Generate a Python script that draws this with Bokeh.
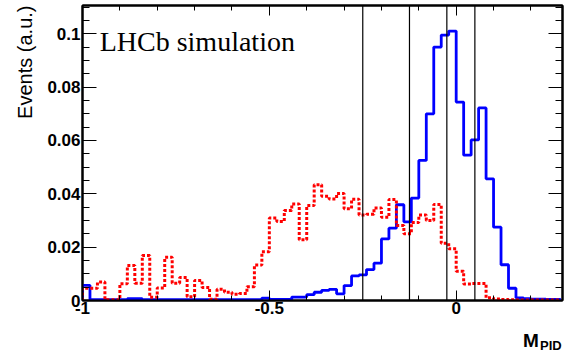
import numpy as np
from bokeh.plotting import figure
from bokeh.models import Range1d, FixedTicker, LinearAxis, Span, Label, Title
from bokeh.embed import file_html
from bokeh.resources import INLINE

# ---- data ----
bin_start = -1.0
bin_width = 0.02
n_bins = 64

signal = [0.0057, 0.0003, 0.0003, 0.0003, 0.0003, 0.0003, 0.0007, 0.0007, 0.0003, 0.0003,
          0.0003, 0.0003, 0.0003, 0.0003, 0.0003, 0.0003, 0.0003, 0.0003, 0.0003, 0.0003,
          0.0003, 0.0003, 0.0003, 0.0003, 0.0009, 0.0004, 0.0004, 0.0004, 0.0013, 0.0013,
          0.0022, 0.0031, 0.0038, 0.0042, 0.0025, 0.0056, 0.0092, 0.0096, 0.0116, 0.0140,
          0.0231, 0.0271, 0.0359, 0.0295, 0.0384, 0.0525, 0.0700, 0.0950, 0.0995, 0.1010,
          0.0744, 0.0545, 0.0602, 0.0722, 0.0456, 0.0275, 0.0134, 0.0046, 0.0010, 0.0007,
          0.0005, 0.0005, 0.0004, 0.0004]

background = [0.0046, 0.0046, 0.0069, 0.0003, 0.0003, 0.0063, 0.0131, 0.0065, 0.0169, 0.0012,
              0.0047, 0.0162, 0.0065, 0.0086, 0.0014, 0.0075, 0.0049, 0.0005, 0.0042, 0.0031,
              0.0023, 0.0026, 0.0052, 0.0133, 0.0183, 0.0309, 0.0296, 0.0337, 0.0362, 0.0228,
              0.0356, 0.0434, 0.0391, 0.0381, 0.0401, 0.0344, 0.0380, 0.0321, 0.0323, 0.0347,
              0.0312, 0.0379, 0.0281, 0.0250, 0.0292, 0.0321, 0.0300, 0.0360, 0.0215, 0.0194,
              0.0110, 0.0062, 0.0064, 0.0064, 0.0010, 0.0006, 0.0004, 0.0003, 0.0002, 0.0002,
              0.0002, 0.0002, 0.0002, 0.0002]

cut_positions = [-0.25, -0.125, -0.025, 0.05]

x_ticks = [-1, -0.5, 0]
x_tick_labels = ["-1", "-0.5", "0"]
x_minor = [round(-1 + 0.1 * i, 2) for i in range(13)]
y_ticks = [0, 0.02, 0.04, 0.06, 0.08, 0.1]
y_tick_labels = ["0", "0.02", "0.04", "0.06", "0.08", "0.1"]
y_minor = [round(0.005 * i, 3) for i in range(23)]

x_title = "M"
x_title_sub = "PID"
y_title = "Events (a.u.)"
tag = "LHCb simulation"

# ---- figure ----
p = figure(width=568, height=352, output_backend="svg", toolbar_location=None,
           x_range=Range1d(-1, 0.2845), y_range=Range1d(0, 0.1106),
           min_border_left=82, min_border_right=6, min_border_top=5, min_border_bottom=52)
p.grid.visible = False
p.outline_line_color = "black"
p.outline_line_width = 2
p.background_fill_color = "white"
p.border_fill_color = "white"

edges = np.round(bin_start + bin_width * np.arange(n_bins + 1), 4)


def step_xy(vals):
    xs = np.concatenate([[edges[0]], edges])
    ys = np.concatenate([[0.0], vals, [vals[-1]]])
    return xs, ys


bx, by = step_xy(np.array(signal))
p.step(bx, by, mode="after", line_color="#0000ff", line_width=2.8)
rx, ry = step_xy(np.array(background))
p.step(rx, ry, mode="after", line_color="#ff0000", line_width=3, line_dash="3 2")

for c in cut_positions:
    p.add_layout(Span(location=c, dimension="height", line_color="black", line_width=1.2))

font = "Liberation Sans"


def style_axis(ax, ticks, minor, labels, major_len, minor_len, show_labels):
    ax.ticker = FixedTicker(ticks=ticks, minor_ticks=minor)
    ax.major_label_overrides = {t: l for t, l in zip(ticks, labels)}
    ax.axis_line_color = "black"
    ax.axis_line_width = 2
    ax.major_tick_in = major_len
    ax.major_tick_out = 0
    ax.minor_tick_in = minor_len
    ax.minor_tick_out = 0
    ax.major_tick_line_color = "black"
    ax.minor_tick_line_color = "black"
    ax.major_tick_line_width = 1
    ax.minor_tick_line_width = 1
    if show_labels:
        ax.major_label_text_font = font
        ax.major_label_text_font_style = "bold"
        ax.major_label_text_font_size = "17px"
        ax.major_label_text_color = "black"
    else:
        ax.major_label_text_font_size = "0px"
        ax.major_label_text_color = None


xa = p.xaxis[0]
style_axis(xa, x_ticks, x_minor, x_tick_labels, 10, 5, True)
xa.major_label_standoff = 1

ya = p.yaxis[0]
style_axis(ya, y_ticks, y_minor, y_tick_labels, 14, 7, True)
ya.major_label_standoff = 2

top = LinearAxis()
style_axis(top, x_ticks, x_minor, x_tick_labels, 10, 5, False)
p.add_layout(top, "above")
right = LinearAxis()
style_axis(right, y_ticks, y_minor, y_tick_labels, 14, 7, False)
p.add_layout(right, "right")

# y-axis title, aligned to the top end (ROOT style)
p.add_layout(Title(text=y_title, align="right", text_font=font, text_font_style="normal",
                   text_font_size="20px", text_color="black", standoff=18), "left")

# x-axis title "M" with subscript "PID" (bottom panel, positioned through the plot scales)
lab_m = Label(x=0.179, y=-0.0150, text=x_title,
              text_font=font, text_font_style="bold", text_font_size="19px",
              text_color="black", text_baseline="alphabetic")
lab_pid = Label(x=0.2245, y=-0.0169, text=x_title_sub,
                text_font=font, text_font_style="bold", text_font_size="13px",
                text_color="black", text_baseline="alphabetic")
p.add_layout(lab_m, "below")
p.add_layout(lab_pid, "below")

p.add_layout(Label(x=-0.954, y=0.0972, text=tag, text_font="Liberation Serif",
                   text_font_size="28px", text_color="black", text_baseline="alphabetic"))

open("out.html", "w").write(file_html(p, INLINE))
